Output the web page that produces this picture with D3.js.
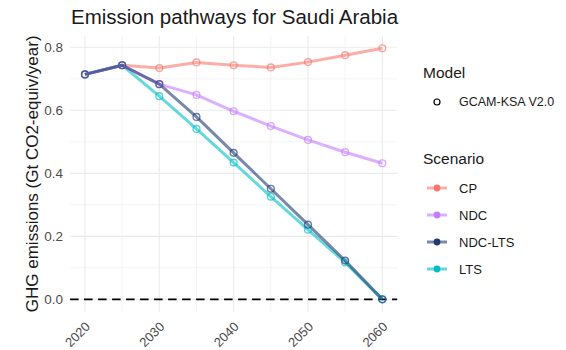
<!DOCTYPE html>
<html>
<head>
<meta charset="utf-8">
<script src="https://cdn.jsdelivr.net/npm/d3@7"></script>
<style>
  html, body { margin: 0; padding: 0; background: #fff; }
  svg { display: block; font-family: "Liberation Sans", Arial, Helvetica, sans-serif; }
</style>
</head>
<body>
<svg id="chart" width="566" height="350"></svg>
<script>
// Emission pathways (Gt CO2-equiv/year), GCAM-KSA V2.0
const years = [2020, 2025, 2030, 2035, 2040, 2045, 2050, 2055, 2060];
const cpValues     = [0.714, 0.743, 0.734, 0.752, 0.743, 0.736, 0.753, 0.775, 0.797];
const ndcValues    = [0.714, 0.743, 0.683, 0.649, 0.597, 0.550, 0.506, 0.467, 0.432];
const ndcLtsValues = [0.714, 0.743, 0.683, 0.579, 0.465, 0.351, 0.237, 0.123, 0.000];
const ltsValues    = [0.714, 0.743, 0.645, 0.541, 0.434, 0.326, 0.221, 0.117, 0.000];

const scenarioNames = ["CP", "NDC", "NDC-LTS", "LTS"];
const scenarioColors = ["#F8766D", "#C77CFF", "#1f3a72", "#00BFC4"];
const modelName = "GCAM-KSA V2.0";

const xTicks = [2020, 2030, 2040, 2050, 2060];
const xMinor = [2025, 2035, 2045, 2055];
const yTicks = [0, 0.2, 0.4, 0.6, 0.8];
const yMinor = [0.1, 0.3, 0.5, 0.7];

const seriesByName = {
  "CP": cpValues, "NDC": ndcValues, "NDC-LTS": ndcLtsValues, "LTS": ltsValues
};
const color = d3.scaleOrdinal().domain(scenarioNames).range(scenarioColors);

// drawing order follows alphabetical grouping
const drawOrder = scenarioNames.slice().sort();
const series = drawOrder.map(name => ({
  name,
  points: years.map((yr, i) => ({ year: yr, value: seriesByName[name][i] }))
}));

const svg = d3.select("#chart");
const panel = { left: 70.1, right: 397.2, top: 35.7, bottom: 311.9 };

// 5% expansion on each side of the data range
const xExt = d3.extent(years);
const xPad = (xExt[1] - xExt[0]) * 0.05;
const allVals = [].concat(cpValues, ndcValues, ndcLtsValues, ltsValues);
const yExt = [Math.min(0, d3.min(allVals)), d3.max(allVals)];
const yPad = (yExt[1] - yExt[0]) * 0.05;

const x = d3.scaleLinear().domain([xExt[0] - xPad, xExt[1] + xPad]).range([panel.left, panel.right]);
const y = d3.scaleLinear().domain([yExt[0] - yPad, yExt[1] + yPad]).range([panel.bottom, panel.top]);

// grid
const grid = svg.append("g");
grid.selectAll(".vminor").data(xMinor).join("line")
  .attr("x1", d => x(d)).attr("x2", d => x(d))
  .attr("y1", panel.top).attr("y2", panel.bottom)
  .attr("stroke", "#ededed").attr("stroke-width", 0.6);
grid.selectAll(".hminor").data(yMinor).join("line")
  .attr("y1", d => y(d)).attr("y2", d => y(d))
  .attr("x1", panel.left).attr("x2", panel.right)
  .attr("stroke", "#ededed").attr("stroke-width", 0.6);
grid.selectAll(".vmajor").data(xTicks).join("line")
  .attr("x1", d => x(d)).attr("x2", d => x(d))
  .attr("y1", panel.top).attr("y2", panel.bottom)
  .attr("stroke", "#ebebeb").attr("stroke-width", 1.1);
grid.selectAll(".hmajor").data(yTicks).join("line")
  .attr("y1", d => y(d)).attr("y2", d => y(d))
  .attr("x1", panel.left).attr("x2", panel.right)
  .attr("stroke", "#ebebeb").attr("stroke-width", 1.1);

// zero reference line
svg.append("line")
  .attr("x1", panel.left).attr("x2", panel.right)
  .attr("y1", y(0)).attr("y2", y(0))
  .attr("stroke", "#000").attr("stroke-width", 1.6)
  .attr("stroke-dasharray", "8.5,5.5");

// lines
const line = d3.line().x(d => x(d.year)).y(d => y(d.value));
svg.append("g").selectAll("path").data(series).join("path")
  .attr("d", d => line(d.points))
  .attr("fill", "none")
  .attr("stroke", d => color(d.name))
  .attr("stroke-opacity", 0.6)
  .attr("stroke-width", 3)
  .attr("stroke-linejoin", "round");

// points (hollow circles)
const pts = svg.append("g");
series.forEach(s => {
  pts.selectAll(null).data(s.points).join("circle")
    .attr("cx", d => x(d.year)).attr("cy", d => y(d.value))
    .attr("r", 3.4)
    .attr("fill", "none")
    .attr("stroke", color(s.name))
    .attr("stroke-opacity", 0.65)
    .attr("stroke-width", 1.4);
});

// axes
const xAxis = svg.append("g")
  .attr("transform", `translate(0,${panel.bottom})`)
  .call(d3.axisBottom(x).tickValues(xTicks).tickSize(0).tickFormat(d3.format("d")));
xAxis.select(".domain").remove();
xAxis.selectAll("text")
  .attr("x", 0).attr("y", 0).attr("dy", null)
  .attr("text-anchor", "end")
  .attr("transform", "translate(5.5,15.5) rotate(-45)")
  .attr("fill", "#4d4d4d")
  .style("font-size", "13px")
  .style("font-family", "'Liberation Sans', Arial, sans-serif");

const yAxis = svg.append("g")
  .attr("transform", `translate(${panel.left},0)`)
  .call(d3.axisLeft(y).tickValues(yTicks).tickSize(0).tickPadding(7).tickFormat(d3.format(".1f")));
yAxis.select(".domain").remove();
yAxis.selectAll("text")
  .attr("fill", "#4d4d4d")
  .style("font-size", "13.5px")
  .style("font-family", "'Liberation Sans', Arial, sans-serif");

// titles
svg.append("text")
  .attr("x", 71).attr("y", 24)
  .attr("font-size", 20.5).attr("fill", "#1a1a1a")
  .text("Emission pathways for Saudi Arabia");

svg.append("text")
  .attr("transform", `translate(38,${(panel.top + panel.bottom) / 2}) rotate(-90)`)
  .attr("text-anchor", "middle")
  .attr("font-size", 17).attr("fill", "#1a1a1a")
  .text("GHG emissions (Gt CO2-equiv/year)");

// legend: model
const lg = svg.append("g");
const keyX = 437, labelX = 459;
lg.append("text").attr("x", 423).attr("y", 78).attr("font-size", 15.5).attr("fill", "#1a1a1a").text("Model");
lg.append("circle").attr("cx", keyX).attr("cy", 102).attr("r", 3)
  .attr("fill", "none").attr("stroke", "#000").attr("stroke-width", 1.2);
lg.append("text").attr("x", labelX).attr("y", 102).attr("dy", "0.35em")
  .attr("font-size", 12.5).attr("fill", "#1a1a1a").text(modelName);

// legend: scenario
lg.append("text").attr("x", 423).attr("y", 164).attr("font-size", 15.5).attr("fill", "#1a1a1a").text("Scenario");
const rowY = d3.scalePoint().domain(scenarioNames).range([188, 269]);
const rows = lg.selectAll(".row").data(scenarioNames).join("g")
  .attr("transform", d => `translate(0,${rowY(d)})`);
rows.append("line")
  .attr("x1", keyX - 10).attr("x2", keyX + 10)
  .attr("stroke", d => color(d)).attr("stroke-opacity", 0.6).attr("stroke-width", 3);
rows.append("circle").attr("cx", keyX).attr("r", 3.4).attr("fill", d => color(d));
rows.append("text").attr("x", labelX).attr("dy", "0.35em")
  .attr("font-size", 13).attr("fill", "#1a1a1a").text(d => d);
</script>
</body>
</html>
